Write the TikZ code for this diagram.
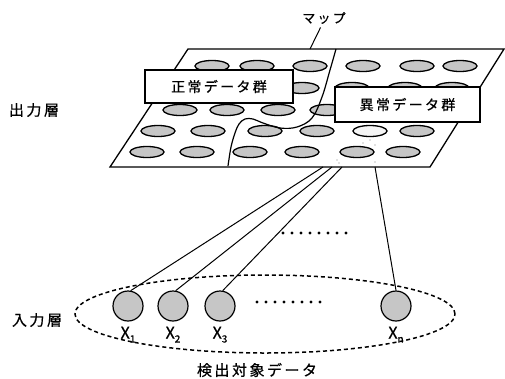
\documentclass[tikz,border=0pt]{standalone}
\usepackage{fontspec}
\setmainfont{Noto Sans CJK JP}[FakeBold=0.7]
\usetikzlibrary{positioning,shapes.geometric}
\newcommand{\xsub}[1]{X\raisebox{-4pt}{\fontsize{10}{10}\selectfont #1}}

\begin{document}
\begin{tikzpicture}[x=1pt,y=-1pt,
  cell/.style={ellipse,draw,line width=1.3pt,fill=gray!45,minimum width=34pt,minimum height=11pt,inner sep=0pt},
  groupbox/.style={draw,line width=1.2pt,fill=white,inner sep=0pt,font=\fontsize{14}{14}\selectfont},
  unit/.style={circle,draw,line width=1.2pt,fill=gray!45,minimum size=30pt,inner sep=0pt},
  tag/.style={font=\fontsize{15}{15}\selectfont},
  sublabel/.style={font=\fontsize{16}{16}\selectfont,inner sep=0pt},
  link/.style={line width=1pt}]
\useasboundingbox (0,0) rectangle (505,378);
% map plane
\draw[line width=1.3pt,fill=white] (188,49) -- (504,49) -- (430,167) -- (110,167) -- cycle;
\foreach \y/\xs in {66/{212,257,310,363,417,460},88/{198,250,302,352,405,452},110/{180,227,278,327,377,427},152/{147,197,250,302,357,403}}
  \foreach \x in \xs \node[cell] (c-\x-\y) at (\x,\y) {};
\foreach \x in {158,208,265,317,417} \node[cell] (c-\x-131) at (\x,131) {};
\node[cell,fill=gray!8] (win) at (370,131) {};
\foreach \p in {(363,143),(370,140),(375,145),(337,160),(339,163),(375,162)} \fill[gray] \p circle (0.7pt);
% boundary between the groups
\draw[line width=1.2pt] plot[smooth,tension=0.6] coordinates {(336,49) (330,70) (322,97) (312,118) (297,127) (280,128) (263,123) (253,119) (245,119) (239,124) (235,133) (231,147) (228,166)};
\node[groupbox,minimum width=148pt,minimum height=33pt] (normal) at (219,86.5) {正\,常\,デ\,ー\,タ\,群};
\node[groupbox,minimum width=145pt,minimum height=35pt] (abnormal) at (407.5,104.5) {異\,常\,デ\,ー\,タ\,群};
\node[tag,font=\fontsize{13}{13}\selectfont] (maplabel) at (324,18) {マ\,ッ\,プ};
\coordinate (mapedge) at (310,49);
\draw[link] (maplabel.250) -- (mapedge);
\node[tag] (outlayer) at (34,110) {出\,力\,層};
% input layer
\node[ellipse,draw,dashed,line width=1.5pt,dash pattern=on 4pt off 3pt,minimum width=380pt,minimum height=78pt,inner sep=0pt] (inputs) at (265,314) {};
\node[tag] (inlayer) at (37,320) {入\,力\,層};
\node[unit] (x1) at (128,306) {};
\node[unit] (x2) at (173,306) {};
\node[unit] (x3) at (220,306) {};
\node[unit] (xn) at (396,306) {};
\node[sublabel,below=5pt of x1] (lx1) {\xsub{1}};
\node[sublabel,below=5pt of x2] (lx2) {\xsub{2}};
\node[sublabel,below=5pt of x3] (lx3) {\xsub{3}};
\node[sublabel,below=5pt of xn] (lxn) {\xsub{n}};
\foreach \i in {0,...,7} \fill (257+9*\i,302) circle (1.6pt);
\foreach \i in {0,...,7} \fill (283+9*\i,233) circle (1.6pt);
\node[tag] (target) at (257,370) {検\,出\,対\,象\,デ\,ー\,タ};
% links from the map
\coordinate (m1) at (323,167);
\coordinate (m2) at (332,167);
\coordinate (m3) at (342,167);
\coordinate (mn) at (375,167);
\draw[link] (m1) -- (x1.80);
\draw[link] (m2) -- (x2.80);
\draw[link] (m3) -- (x3.80);
\draw[link] (mn) -- (xn.north);
\end{tikzpicture}
\end{document}
